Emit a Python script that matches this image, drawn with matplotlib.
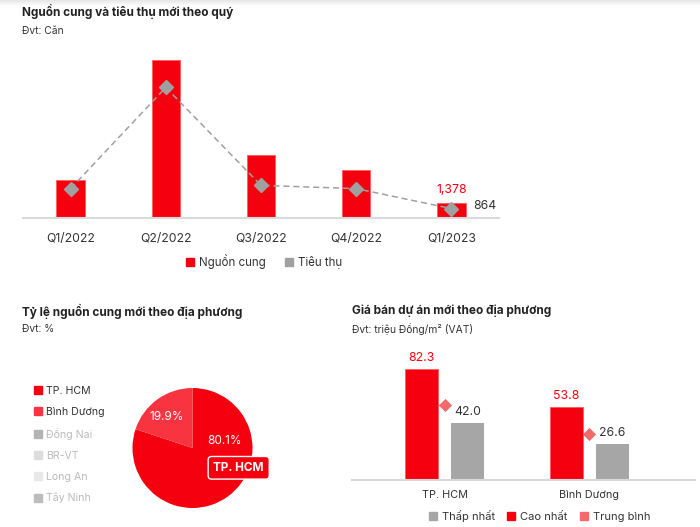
import matplotlib
matplotlib.use("Agg")
import matplotlib.pyplot as plt
import numpy as np
from matplotlib.lines import Line2D

plt.rcParams['font.family'] = ['Inter', 'DejaVu Sans']

# data
quarters = ['Q1/2022', 'Q2/2022', 'Q3/2022', 'Q4/2022', 'Q1/2023']
supply = [3500, 14500, 5800, 4400, 1378]
absorption = [2700, 12000, 3000, 2700, 864]

regions = ['TP. HCM', 'Bình Dương', 'Đồng Nai', 'BR-VT', 'Long An', 'Tây Ninh']
region_share = [80.1, 19.9]

price_regions = ['TP. HCM', 'Bình Dương']
price_low = [42.0, 26.6]
price_high = [82.3, 53.8]
price_avg = [55.3, 33.9]

RED = '#f5000f'
RED_EDGE = '#ff5a5a'
RED2 = '#f73440'
GREY = '#a6a6a6'
SALMON = '#f26b6b'
DARK = '#333333'
AXIS = '#d9d9d9'

W, H = 700, 527
fig = plt.figure(figsize=(7, 5.27), dpi=100)


def rect(x0, y0, x1, y1):
    return [x0 / W, 1 - y1 / H, (x1 - x0) / W, (y1 - y0) / H]


def pt(x, y):
    return x / W, 1 - y / H


# faint shadow at the top edge
sh = fig.add_axes(rect(0, 0, 700, 6))
sh.imshow(np.linspace(0.9, 1.0, 20).reshape(-1, 1), cmap='gray', vmin=0, vmax=1,
          aspect='auto', extent=[0, 1, 0, 1])
sh.axis('off')

# ---------- top chart ----------
fig.text(*pt(22, 11), 'Nguồn cung và tiêu thụ mới theo quý', fontsize=8.5,
         fontweight='bold', color='#222222', va='center')
fig.text(*pt(22, 31), 'Đvt: Căn', fontsize=7.4, color=DARK, va='center')

ax = fig.add_axes(rect(23, 40, 499, 218))
x = np.arange(len(quarters))
ax.bar(x, supply, width=0.3, color=RED, edgecolor=RED_EDGE, linewidth=0.6, zorder=2)
ax.plot(x, absorption, color='#a0a0a0', lw=1.1, ls=(0, (4, 2.5)), marker='D',
        markersize=7, markerfacecolor='#a0a0a0', markeredgecolor='#a0a0a0', zorder=3)
ax.set_xlim(-0.5, 4.5)
ax.set_ylim(0, 178 * 91.9)
for s in ['top', 'right', 'left']:
    ax.spines[s].set_visible(False)
ax.spines['bottom'].set_color(AXIS)
ax.spines['bottom'].set_linewidth(1.5)
ax.set_yticks([])
ax.set_xticks(x)
ax.set_xticklabels(quarters, fontsize=8.8, color=DARK)
ax.tick_params(axis='x', length=0, pad=11)
ax.annotate(f'{supply[-1]:,}', (x[-1], supply[-1]), xytext=(0, 7),
            textcoords='offset points', ha='center', fontsize=8.8, color=RED)
ax.annotate(f'{absorption[-1]:,}', (x[-1], absorption[-1]), xytext=(24, 0),
            textcoords='offset points', ha='center', fontsize=8.8, color=DARK)

h1 = [Line2D([], [], ls='', marker='s', markersize=6, color=RED),
      Line2D([], [], ls='', marker='s', markersize=6, color='#a0a0a0')]
fig.legend(h1, ['Nguồn cung', 'Tiêu thụ'], loc='center', bbox_to_anchor=pt(263, 262),
           ncol=2, frameon=False, fontsize=8.3, handletextpad=0.3, columnspacing=1.5,
           handlelength=1.0, labelcolor=DARK)

# ---------- pie chart ----------
fig.text(*pt(22, 311), 'Tỷ lệ nguồn cung mới theo địa phương', fontsize=8.5,
         fontweight='bold', color='#222222', va='center')
fig.text(*pt(22, 329), 'Đvt: %', fontsize=7.4, color=DARK, va='center')

pax = fig.add_axes(rect(132, 388, 253, 508))
pax.pie(region_share, colors=[RED, RED2], startangle=90, counterclock=False,
        radius=1, wedgeprops=dict(linewidth=0))
pax.set_xlim(-1, 1)
pax.set_ylim(-1, 1)
pax.set_aspect('equal')
pax.text(0.53, 0.12, f'{region_share[0]}%', color='white', fontsize=8.5,
         ha='center', va='center')
pax.text(-0.43, 0.52, f'{region_share[1]}%', color='white', fontsize=8.5,
         ha='center', va='center')
pax.text(0.77, -0.33, regions[0], color='white', fontsize=8.5, fontweight='bold',
         ha='center', va='center', clip_on=False,
         bbox=dict(boxstyle='round,pad=0.45,rounding_size=0.3', facecolor=RED,
                   edgecolor='white', linewidth=1.0))

region_colors = [RED, RED2, '#b3b3b3', '#dddddd', '#e8e8e8', '#bdbdbd']
text_colors = [DARK, DARK, '#bbbbbb', '#bbbbbb', '#bbbbbb', '#bbbbbb']
h2 = [Line2D([], [], ls='', marker='s', markersize=5.5, color=c) for c in region_colors]
fig.legend(h2, regions, loc='upper left', bbox_to_anchor=pt(24, 376), frameon=False,
           fontsize=7.6, handletextpad=0.4, labelspacing=1.05, handlelength=0.8,
           labelcolor=text_colors)

# ---------- price chart ----------
fig.text(*pt(352, 311), 'Giá bán dự án mới theo địa phương', fontsize=8.5,
         fontweight='bold', color='#222222', va='center')
fig.text(*pt(352, 329), 'Đvt: triệu Đồng/m² (VAT)', fontsize=7.4, color=DARK, va='center')

bax = fig.add_axes(rect(352, 345, 695, 480))
xp = np.arange(len(price_regions))
bw = 0.228
bax.bar(xp - 0.159, price_high, width=bw, color=RED, edgecolor=RED_EDGE,
        linewidth=0.6, zorder=2)
bax.bar(xp + 0.159, price_low, width=bw, color=GREY, zorder=2)
bax.scatter(xp, price_avg, marker='D', s=45, color=SALMON, zorder=3, linewidths=0)
for i in range(len(xp)):
    bax.annotate(f'{price_high[i]:.1f}', (xp[i] - 0.159, price_high[i]), xytext=(0, 6),
                 textcoords='offset points', ha='center', fontsize=8.8, color=RED)
    bax.annotate(f'{price_low[i]:.1f}', (xp[i] + 0.159, price_low[i]), xytext=(0, 6),
                 textcoords='offset points', ha='center', fontsize=8.8, color=DARK)
bax.set_xlim(-0.64, 1.733)
bax.set_ylim(0, 100)
for s in ['top', 'right', 'left']:
    bax.spines[s].set_visible(False)
bax.spines['bottom'].set_color(AXIS)
bax.spines['bottom'].set_linewidth(1.5)
bax.set_yticks([])
bax.set_xticks(xp)
bax.set_xticklabels(price_regions, fontsize=7.8, color=DARK)
bax.tick_params(axis='x', length=0, pad=7)

h3 = [Line2D([], [], ls='', marker='s', markersize=6, color=GREY),
      Line2D([], [], ls='', marker='s', markersize=6, color=RED),
      Line2D([], [], ls='', marker='s', markersize=6, color=SALMON)]
fig.legend(h3, ['Thấp nhất', 'Cao nhất', 'Trung bình'], loc='center',
           bbox_to_anchor=pt(539, 516), ncol=3, frameon=False, fontsize=8,
           handletextpad=0.3, columnspacing=1.0, handlelength=1.0, labelcolor=DARK)

fig.savefig('out.png', dpi=100, facecolor='white')
